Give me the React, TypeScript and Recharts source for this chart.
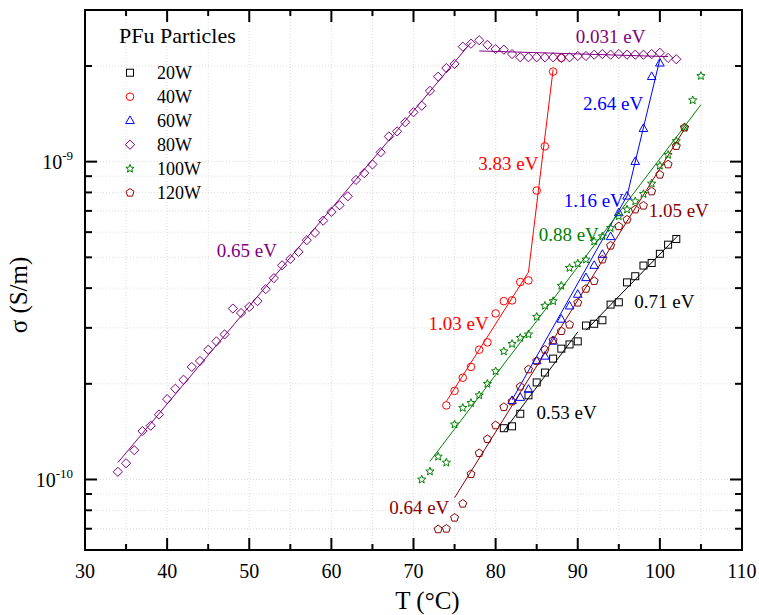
import { ScatterChart, Scatter, XAxis, YAxis, CartesianGrid, Legend, ReferenceDot, ReferenceArea } from 'recharts';

const W = 759;
const H = 615;
const TOP = 10;
const RIGHT = 742;
const FONT = '"Liberation Serif", "Times New Roman", serif';

const X_TICKS = [30, 35, 40, 45, 50, 55, 60, 65, 70, 75, 80, 85, 90, 95, 100, 105, 110];
const Y_TICKS = [7e-11, 8e-11, 9e-11, 1e-10, 2e-10, 3e-10, 4e-10, 5e-10, 6e-10, 7e-10, 8e-10, 9e-10, 1e-9, 2e-9];
const Y_DOMAIN = [6e-11, 3e-9];

// 20W
const T_20W = [81, 82, 83, 84, 85, 86, 87, 88, 89, 90, 91, 92, 93, 94, 95, 96, 97, 98, 99, 100, 101, 102];
const S_20W = [1.45e-10, 1.47e-10, 1.61e-10, 1.84e-10, 2.02e-10, 2.17e-10, 2.4e-10, 2.58e-10, 2.66e-10, 2.72e-10, 3.05e-10,
  3.09e-10, 3.17e-10, 3.55e-10, 3.61e-10, 4.17e-10, 4.36e-10, 4.71e-10, 4.8e-10, 5.13e-10, 5.48e-10, 5.71e-10];

// 40W
const T_40W = [74, 75, 76, 77, 78, 79, 80, 81, 82, 83, 84, 85, 86, 87, 88];
const S_40W = [1.71e-10, 1.9e-10, 2.09e-10, 2.26e-10, 2.56e-10, 2.7e-10, 3.33e-10, 3.64e-10, 3.66e-10, 4.18e-10, 4.23e-10,
  8.11e-10, 1.117e-9, 1.92e-9, 2.12e-9];

// 60W
const T_60W = [82, 83, 84, 85, 86, 87, 88, 89, 90, 91, 92, 93, 94, 95, 96, 97, 98, 99, 100];
const S_60W = [1.77e-10, 1.81e-10, 1.92e-10, 2.36e-10, 2.44e-10, 2.72e-10, 3.19e-10, 3.51e-10, 3.82e-10, 4.31e-10, 4.71e-10,
  5.1e-10, 5.8e-10, 6.9e-10, 7.78e-10, 1.0e-9, 1.27e-9, 1.85e-9, 2.04e-9];

// 80W
const T_80W = [34, 35, 36, 37, 38, 39, 40, 41, 42, 43, 44, 45, 46, 47, 48, 49, 50, 51, 52, 53, 54, 55, 56, 57, 58, 59, 60,
  61, 62, 63, 64, 65, 66, 67, 68, 69, 70, 71, 72, 73, 74, 75, 76, 77, 78, 79, 80, 81, 82, 83, 84, 85, 86, 87, 88, 89, 90,
  91, 92, 93, 94, 95, 96, 97, 98, 99, 100, 101, 102];
const S_80W = [1.057e-10, 1.125e-10, 1.236e-10, 1.42e-10, 1.476e-10, 1.6e-10, 1.79e-10, 1.93e-10, 2.06e-10, 2.26e-10, 2.36e-10,
  2.56e-10, 2.72e-10, 2.86e-10, 3.45e-10, 3.34e-10, 3.49e-10, 3.64e-10, 3.97e-10, 4.3e-10, 4.72e-10, 4.94e-10, 5.2e-10,
  5.66e-10, 5.97e-10, 6.52e-10, 6.95e-10, 7.29e-10, 7.78e-10, 8.76e-10, 9.2e-10, 9.8e-10, 1.07e-9, 1.2e-9, 1.245e-9,
  1.33e-9, 1.43e-9, 1.5e-9, 1.67e-9, 1.85e-9, 1.97e-9, 2.03e-9, 2.3e-9, 2.35e-9, 2.41e-9, 2.33e-9, 2.26e-9, 2.25e-9,
  2.18e-9, 2.13e-9, 2.13e-9, 2.13e-9, 2.13e-9, 2.13e-9, 2.12e-9, 2.13e-9, 2.15e-9, 2.15e-9, 2.17e-9, 2.18e-9, 2.17e-9,
  2.18e-9, 2.17e-9, 2.17e-9, 2.17e-9, 2.18e-9, 2.2e-9, 2.12e-9, 2.1e-9];

// 100W
const T_100W = [71, 72, 73, 74, 75, 76, 77, 78, 79, 80, 81, 82, 83, 84, 85, 86, 87, 88, 89, 90, 91, 92, 93, 94, 95, 96, 97,
  98, 99, 100, 101, 102, 103, 104, 105];
const S_100W = [1.0e-10, 1.06e-10, 1.18e-10, 1.13e-10, 1.49e-10, 1.68e-10, 1.74e-10, 1.84e-10, 2.0e-10, 2.19e-10, 2.53e-10,
  2.67e-10, 2.79e-10, 2.86e-10, 3.25e-10, 3.52e-10, 3.64e-10, 4.07e-10, 4.63e-10, 4.78e-10, 4.92e-10, 5.61e-10, 5.82e-10,
  6.18e-10, 6.73e-10, 7.07e-10, 7.5e-10, 7.91e-10, 8.53e-10, 9.71e-10, 1.05e-9, 1.16e-9, 1.28e-9, 1.56e-9, 1.86e-9];

// 120W
const T_120W = [73, 74, 75, 76, 77, 78, 79, 80, 81, 82, 83, 84, 85, 86, 87, 88, 89, 90, 91, 92, 93, 94, 95, 96, 97, 98, 99,
  100, 101, 102, 103];
const S_120W = [6.97e-11, 7.0e-11, 7.58e-11, 8.39e-11, 1.04e-10, 1.21e-10, 1.34e-10, 1.48e-10, 1.69e-10, 1.76e-10, 1.96e-10,
  2.22e-10, 2.36e-10, 2.56e-10, 2.74e-10, 2.93e-10, 3.07e-10, 3.6e-10, 3.98e-10, 4.21e-10, 4.92e-10, 5.44e-10, 6.26e-10,
  6.57e-10, 7.07e-10, 7.27e-10, 8.06e-10, 9.1e-10, 9.8e-10, 1.12e-9, 1.28e-9];

// fitted lines: [T, sigma] end points
const FIT_20W_LOW = [[81, 1.42e-10], [90, 2.91e-10]];
const FIT_20W_HIGH = [[91, 2.95e-10], [102.2, 5.85e-10]];
const FIT_40W_LOW = [[74, 1.76e-10], [84, 4.49e-10]];
const FIT_40W_HIGH = [[84, 4.49e-10], [87, 1.95e-9]];
const FIT_60W_LOW = [[82, 1.78e-10], [96, 7.8e-10]];
const FIT_60W_HIGH = [[96, 7.8e-10], [100, 2.1e-9]];
const FIT_80W_LOW = [[34, 1.13e-10], [77, 2.37e-9]];
const FIT_80W_HIGH = [[78, 2.23e-9], [101, 2.14e-9]];
const FIT_100W = [[72, 1.14e-10], [105, 1.51e-9]];
const FIT_120W = [[75, 8.76e-11], [103.2, 1.29e-9]];

const C_20W = '#000000';
const C_40W = '#ff0000';
const C_60W = '#0000ff';
const C_80W = '#800080';
const C_100W = '#008000';
const C_120W = '#8b0000';

// activation energy labels, centre of text in data units
const NOTES = [
  { text: '0.031 eV', T: 94.0, s: 2.47e-9, color: C_80W },
  { text: '2.64 eV', T: 94.3, s: 1.53e-9, color: C_60W },
  { text: '3.83 eV', T: 81.55, s: 9.9e-10, color: C_40W },
  { text: '1.16 eV', T: 91.95, s: 7.57e-10, color: C_60W },
  { text: '1.05 eV', T: 102.3, s: 7.04e-10, color: C_120W },
  { text: '0.88 eV', T: 88.9, s: 5.92e-10, color: C_100W },
  { text: '0.65 eV', T: 49.7, s: 5.25e-10, color: C_80W },
  { text: '0.71 eV', T: 100.55, s: 3.63e-10, color: C_20W },
  { text: '1.03 eV', T: 75.5, s: 3.09e-10, color: C_40W },
  { text: '0.53 eV', T: 88.65, s: 1.63e-10, color: C_20W },
  { text: '0.64 eV', T: 70.7, s: 8.16e-11, color: C_120W },
];

const SERIES = [
  { name: '20W', color: C_20W, marker: 'square', T: T_20W, s: S_20W, fits: [FIT_20W_LOW, FIT_20W_HIGH] },
  { name: '40W', color: C_40W, marker: 'circle', T: T_40W, s: S_40W, fits: [FIT_40W_LOW, FIT_40W_HIGH] },
  { name: '60W', color: C_60W, marker: 'triangle', T: T_60W, s: S_60W, fits: [FIT_60W_LOW, FIT_60W_HIGH] },
  { name: '80W', color: C_80W, marker: 'diamond', T: T_80W, s: S_80W, fits: [FIT_80W_LOW, FIT_80W_HIGH] },
  { name: '100W', color: C_100W, marker: 'star', T: T_100W, s: S_100W, fits: [FIT_100W] },
  { name: '120W', color: C_120W, marker: 'pentagon', T: T_120W, s: S_120W, fits: [FIT_120W] },
];

function polyPoints(cx: number, cy: number, n: number, r: number, inner?: number) {
  const pts: string[] = [];
  const count = inner ? n * 2 : n;
  for (let i = 0; i < count; i++) {
    const rr = inner && i % 2 === 1 ? inner : r;
    const a = -Math.PI / 2 + (i * 2 * Math.PI) / count;
    pts.push(`${cx + rr * Math.cos(a)},${cy + rr * Math.sin(a)}`);
  }
  return pts.join(' ');
}

function Marker({ kind, cx, cy, color }: { kind: string; cx: number; cy: number; color: string }) {
  const st = { fill: 'none', stroke: color, strokeWidth: 1 };
  if (kind === 'square') return <rect x={cx - 3.5} y={cy - 3.5} width={7} height={7} {...st} />;
  if (kind === 'circle') return <circle cx={cx} cy={cy} r={3.8} {...st} />;
  if (kind === 'triangle') return <polygon points={`${cx},${cy - 4.8} ${cx - 4.3},${cy + 2.8} ${cx + 4.3},${cy + 2.8}`} {...st} />;
  if (kind === 'diamond') return <polygon points={`${cx},${cy - 4.6} ${cx + 4.6},${cy} ${cx},${cy + 4.6} ${cx - 4.6},${cy}`} {...st} />;
  if (kind === 'star') return <polygon points={polyPoints(cx, cy, 5, 4.3, 1.9)} {...st} />;
  return <polygon points={polyPoints(cx, cy, 5, 4.2)} {...st} />;
}

function XTick({ x, y, payload }: any) {
  const v = payload.value;
  const major = v % 10 === 0;
  const len = major ? 12 : 6;
  return (
    <g>
      <line x1={x} y1={y} x2={x} y2={y - len} stroke="#000" strokeWidth={2} />
      <line x1={x} y1={TOP} x2={x} y2={TOP + len} stroke="#000" strokeWidth={2} />
      {major && (
        <text x={x} y={y + 28} textAnchor="middle" fontSize={20} fontFamily={FONT} fill="#000">{v}</text>
      )}
    </g>
  );
}

function YTick({ x, y, payload }: any) {
  const v = payload.value;
  const exp = Math.round(Math.log10(v));
  const major = Math.abs(v - Math.pow(10, exp)) < v * 1e-6;
  const len = major ? 12 : 7;
  return (
    <g>
      <line x1={x} y1={y} x2={x + len} y2={y} stroke="#000" strokeWidth={2} />
      <line x1={RIGHT} y1={y} x2={RIGHT - len} y2={y} stroke="#000" strokeWidth={2} />
      {major && (
        <text x={x - 12} y={y + 7.5} textAnchor="end" fontSize={20} fontFamily={FONT} fill="#000">
          10<tspan dy={-9} fontSize={13}>{String(exp)}</tspan>
        </text>
      )}
    </g>
  );
}

function LegendBox() {
  return (
    <svg width={170} height={190}>
      <text x={19} y={25} fontSize={22} fontFamily={FONT} fill="#000">PFu Particles</text>
      {SERIES.map((s, i) => (
        <g key={s.name}>
          <Marker kind={s.marker} cx={30} cy={54.7 + i * 24} color={s.color} />
          <text x={57} y={61 + i * 24} fontSize={18} fontFamily={FONT} fill="#000">{s.name}</text>
        </g>
      ))}
    </svg>
  );
}

export default function App() {
  return (
    <div style={{ width: W, height: H, background: '#fff' }}>
      <style>{'body{margin:0}'}</style>
      <ScatterChart width={W} height={H} margin={{ top: TOP, right: W - RIGHT, left: 0, bottom: 0 }}>
        <CartesianGrid stroke="#dcdcdc" strokeDasharray="1 2" />
        <XAxis
          type="number"
          dataKey="T"
          domain={[30, 110]}
          ticks={X_TICKS}
          interval={0}
          allowDataOverflow
          height={65}
          axisLine={false}
          tickLine={false}
          tickSize={0}
          tickMargin={0}
          tick={<XTick />}
          label={{
            content: ({ viewBox }: any) => (
              <text x={viewBox.x + viewBox.width / 2 + 14} y={viewBox.y + 59} textAnchor="middle" fontSize={25} fontFamily={FONT} fill="#000">
                T (°C)
              </text>
            ),
          }}
        />
        <YAxis
          type="number"
          dataKey="s"
          scale="log"
          domain={Y_DOMAIN}
          ticks={Y_TICKS}
          interval={0}
          allowDataOverflow
          width={85}
          axisLine={false}
          tickLine={false}
          tickSize={0}
          tickMargin={0}
          tick={<YTick />}
          label={{
            content: ({ viewBox }: any) => (
              <text
                x={18}
                y={viewBox.y + viewBox.height / 2 + 15}
                transform={`rotate(-90 18 ${viewBox.y + viewBox.height / 2 + 15})`}
                textAnchor="middle"
                dominantBaseline="central"
                fontSize={25}
                fontFamily={FONT}
                fill="#000"
              >
                σ (S/m)
              </text>
            ),
          }}
        />
        {SERIES.map((s) =>
          s.fits.map((f, j) => (
            <Scatter
              key={`${s.name}-fit-${j}`}
              data={f.map(([t, v]) => ({ T: t, s: v }))}
              line={{ stroke: s.color, strokeWidth: 1 }}
              shape={() => <g />}
              legendType="none"
              isAnimationActive={false}
            />
          ))
        )}
        {SERIES.map((s) => (
          <Scatter
            key={s.name}
            name={s.name}
            data={s.T.map((t, i) => ({ T: t, s: s.s[i] }))}
            shape={(p: any) => <Marker kind={s.marker} cx={p.cx} cy={p.cy} color={s.color} />}
            isAnimationActive={false}
          />
        ))}
        {NOTES.map((n) => (
          <ReferenceDot
            key={n.text + n.T}
            x={n.T}
            y={n.s}
            r={0}
            ifOverflow="visible"
            shape={(p: any) => (
              <text x={p.cx} y={p.cy} dy="0.35em" textAnchor="middle" fontSize={19} fontFamily={FONT} fill={n.color}>
                {n.text}
              </text>
            )}
          />
        ))}
        <ReferenceArea x1={30} x2={110} y1={Y_DOMAIN[0]} y2={Y_DOMAIN[1]} fill="none" stroke="#000" strokeWidth={2} ifOverflow="visible" />
        <Legend
          layout="vertical"
          align="center"
          verticalAlign="middle"
          wrapperStyle={{ left: 100, top: 18, width: 170, height: 190 }}
          content={() => <LegendBox />}
        />
      </ScatterChart>
    </div>
  );
}
